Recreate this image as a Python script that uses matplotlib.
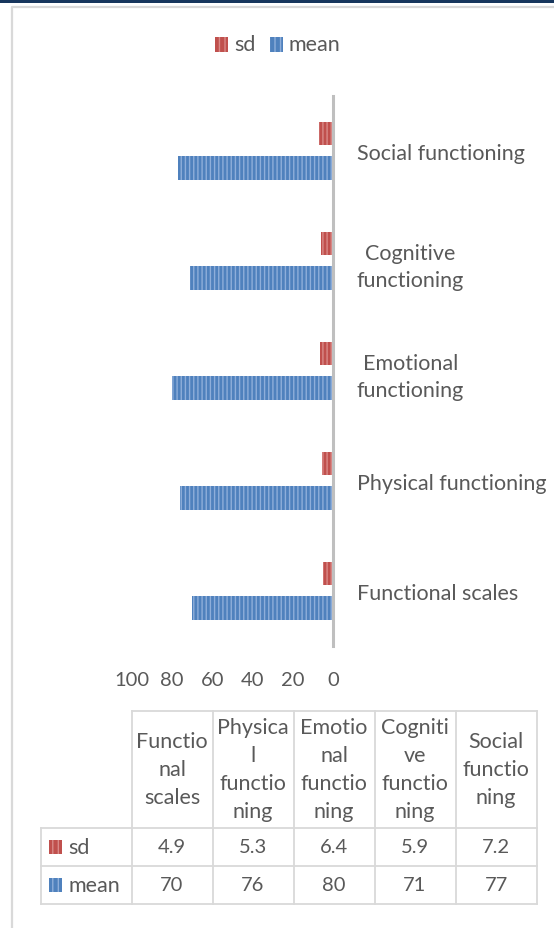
import matplotlib
matplotlib.use("Agg")
import matplotlib.pyplot as plt
from matplotlib.patches import Rectangle
import numpy as np

plt.rcParams["font.family"] = ["Lato", "DejaVu Sans"]
plt.rcParams["hatch.linewidth"] = 1.0

categories = [
    "Functional scales",
    "Physical functioning",
    "Emotional\nfunctioning",
    "Cognitive\nfunctioning",
    "Social functioning",
]
header_labels = [
    "Functio\nnal\nscales",
    "Physica\nl\nfunctio\nning",
    "Emotio\nnal\nfunctio\nning",
    "Cogniti\nve\nfunctio\nning",
    "Social\nfunctio\nning",
]
sd = [4.9, 5.3, 6.4, 5.9, 7.2]
mean = [70, 76, 80, 71, 77]
xticks = [0, 20, 40, 60, 80, 100]

TXT = "#595959"
GRID = "#D9D9D9"
RED, RED_LT = "#C0504D", "#D98A88"
BLUE, BLUE_LT = "#4F81BD", "#8EAEDA"
FS = 15.5
FS_NUM = 14.5

W, H = 554, 929
fig = plt.figure(figsize=(W / 100, H / 100), dpi=100)


def box(x0, y0, x1, y1):
    # pixel box (top-left origin) -> figure fraction rect
    return [x0 / W, 1 - y1 / H, (x1 - x0) / W, (y1 - y0) / H]


# overlay for frame, legend and data table
over = fig.add_axes([0, 0, 1, 1])
over.set_xlim(0, W)
over.set_ylim(H, 0)
over.axis("off")
over.add_patch(Rectangle((0, 0), W, 3.5, color="#17365D", lw=0))
over.plot([12, 12, W], [H, 8, 8], color=GRID, lw=1.6, solid_capstyle="butt")

# bar chart
ax = fig.add_axes(box(132, 97, 333, 647))
y = np.arange(len(categories))
ax.barh(y + 0.16, sd, height=0.21, color=RED, edgecolor=RED_LT, lw=0, hatch="||||")
ax.barh(y - 0.155, mean, height=0.22, color=BLUE, edgecolor=BLUE_LT, lw=0, hatch="||||")
ax.set_xlim(100, 0)
ax.set_ylim(-0.5, len(categories) - 0.5)
ax.set_xticks(xticks)
ax.set_xticklabels([str(v) for v in xticks], fontsize=FS_NUM, color=TXT)
ax.yaxis.tick_right()
ax.set_yticks(y)
ax.set_yticklabels(categories, fontsize=FS, color=TXT)
for lab in ax.get_yticklabels():
    lab.set_multialignment("center")
    lab.set_linespacing(1.45)
ax.tick_params(axis="both", length=0)
ax.tick_params(axis="x", pad=18)
ax.tick_params(axis="y", pad=17)
for side in ["top", "bottom", "left"]:
    ax.spines[side].set_visible(False)
ax.spines["right"].set_color("#BFBFBF")
ax.spines["right"].set_linewidth(2.2)
ax.patch.set_alpha(0)

# legend
for x0, name, fc, ec in [(215, "sd", RED, RED_LT), (270, "mean", BLUE, BLUE_LT)]:
    over.add_patch(Rectangle((x0, 38), 13, 15, facecolor=fc, edgecolor=ec, lw=0, hatch="|||"))
    over.text(x0 + 19, 45, name, fontsize=FS, color=TXT, ha="left", va="center")

# data table
col_edges = [41, 131.5, 212.5, 293.5, 374.5, 455.5, 536.5]
row_edges = [712, 829, 867, 905]
lw_t = 1.3
over.plot([col_edges[1], col_edges[-1]], [row_edges[0]] * 2, color=GRID, lw=lw_t)
for r in row_edges[1:]:
    over.plot([col_edges[0], col_edges[-1]], [r, r], color=GRID, lw=lw_t)
over.plot([col_edges[0]] * 2, [row_edges[1], row_edges[-1]], color=GRID, lw=lw_t)
for c in col_edges[1:]:
    over.plot([c, c], [row_edges[0], row_edges[-1]], color=GRID, lw=lw_t)

centers = [(col_edges[i] + col_edges[i + 1]) / 2 for i in range(1, 6)]
hy = (row_edges[0] + row_edges[1]) / 2
for cx, lab in zip(centers, header_labels):
    over.text(cx, hy, lab, fontsize=FS, color=TXT, ha="center", va="center",
              multialignment="center", linespacing=1.5)

rows = [("sd", sd, RED, RED_LT), ("mean", mean, BLUE, BLUE_LT)]
for i, (name, vals, fc, ec) in enumerate(rows):
    cy = (row_edges[i + 1] + row_edges[i + 2]) / 2
    over.add_patch(Rectangle((49, cy - 7), 13, 14, facecolor=fc, edgecolor=ec, lw=0, hatch="|||"))
    over.text(68, cy, name, fontsize=FS, color=TXT, ha="left", va="center")
    for cx, v in zip(centers, vals):
        over.text(cx, cy, f"{v:g}", fontsize=FS_NUM, color=TXT, ha="center", va="center")

fig.savefig("out.png", dpi=100)
